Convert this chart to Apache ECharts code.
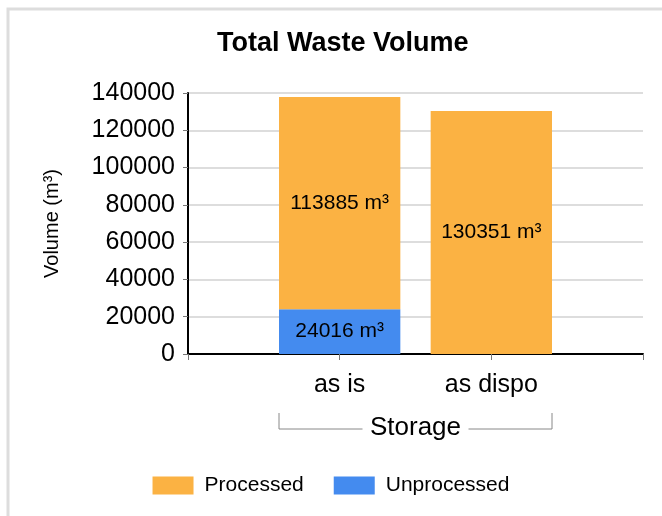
<!DOCTYPE html>
<html>
<head>
<meta charset="utf-8">
<script src="https://cdn.jsdelivr.net/npm/echarts@6/dist/echarts.min.js"></script>
<style>
  html, body { margin: 0; padding: 0; background: #fff; }
  #chart { width: 662px; height: 516px; }
</style>
</head>
<body>
<div id="chart"></div>
<script>
// Categories (empty slots pad the axis on both sides)
var categories = ['', 'as is', 'as dispo', ''];
var processed = [null, 113885, 130351, null];
var unprocessed = [null, 24016, null, null];
var yTicks = { min: 0, max: 140000, interval: 20000 };

var chart = echarts.init(document.getElementById('chart'));
var font = 'Arial, "Liberation Sans", sans-serif';

chart.setOption({
    animation: false,
    textStyle: { fontFamily: font },
    title: {
        text: 'Total Waste Volume',
        left: 212,
        top: 25,
        textStyle: { fontSize: 27, fontWeight: 'bold', color: '#000', fontFamily: font }
    },
    grid: { left: 188, right: 19, top: 93, bottom: 162 },
    legend: {
        data: ['Processed', 'Unprocessed'],
        left: 'center',
        top: 470,
        itemWidth: 41,
        itemHeight: 18,
        itemGap: 30,
        icon: 'rect',
        textStyle: { fontSize: 21, color: '#000', padding: [0, 0, 0, 6], fontFamily: font }
    },
    xAxis: {
        type: 'category',
        data: categories,
        boundaryGap: false,
        axisLine: { lineStyle: { color: '#000', width: 2 } },
        axisTick: { show: true, interval: 0, length: 6, lineStyle: { color: '#777' } },
        axisLabel: { fontSize: 25, color: '#000', margin: 19, interval: 0, fontFamily: font },
        splitLine: { show: false }
    },
    yAxis: {
        type: 'value',
        min: yTicks.min,
        max: yTicks.max,
        interval: yTicks.interval,
        name: 'Volume (m³)',
        nameLocation: 'middle',
        nameGap: 126,
        nameTextStyle: { fontSize: 20, color: '#000', fontFamily: font },
        axisLine: { show: true, lineStyle: { color: '#000', width: 2 } },
        axisTick: { show: true, length: 5, lineStyle: { color: '#777' } },
        axisLabel: {
            fontSize: 25, color: '#000', margin: 13, fontFamily: font,
            formatter: function (v) { return String(v); }
        },
        splitLine: { lineStyle: { color: '#ddd', width: 2 } }
    },
    series: [
        {
            name: 'Unprocessed',
            type: 'bar',
            stack: 'total',
            barWidth: '80%',
            data: unprocessed,
            itemStyle: { color: '#448bef' },
            label: {
                show: true, position: 'inside', color: '#000', fontSize: 21,
                fontFamily: font, formatter: '{c} m³'
            }
        },
        {
            name: 'Processed',
            type: 'bar',
            stack: 'total',
            barWidth: '80%',
            data: processed,
            itemStyle: { color: '#fbb243' },
            label: {
                show: true, position: 'inside', color: '#000', fontSize: 21,
                fontFamily: font, formatter: '{c} m³'
            }
        }
    ]
});

// Bracket under the categories, placed from the axis scale
var xA = chart.convertToPixel({ xAxisIndex: 0 }, categories[1]);
var xB = chart.convertToPixel({ xAxisIndex: 0 }, categories[2]);
var halfBar = (xB - xA) * 0.8 / 2;
var left = xA - halfBar, right = xB + halfBar, mid = (left + right) / 2;
var gray = '#888';

chart.setOption({
    graphic: [
        {
            type: 'rect',
            shape: { x: 8, y: 9, width: 700, height: 600 },
            style: { fill: 'none', stroke: '#ddd', lineWidth: 3 },
            silent: true
        },
        {
            type: 'polyline',
            shape: { points: [[left, 413], [left, 429], [mid - 53, 429]] },
            style: { stroke: gray, lineWidth: 1, fill: 'none' }
        },
        {
            type: 'polyline',
            shape: { points: [[mid + 53, 429], [right, 429], [right, 413]] },
            style: { stroke: gray, lineWidth: 1, fill: 'none' }
        },
        {
            type: 'text',
            x: mid,
            y: 428,
            style: {
                text: 'Storage', fontSize: 26, fill: '#000', fontFamily: font,
                align: 'center', verticalAlign: 'middle'
            }
        }
    ]
});
</script>
</body>
</html>
